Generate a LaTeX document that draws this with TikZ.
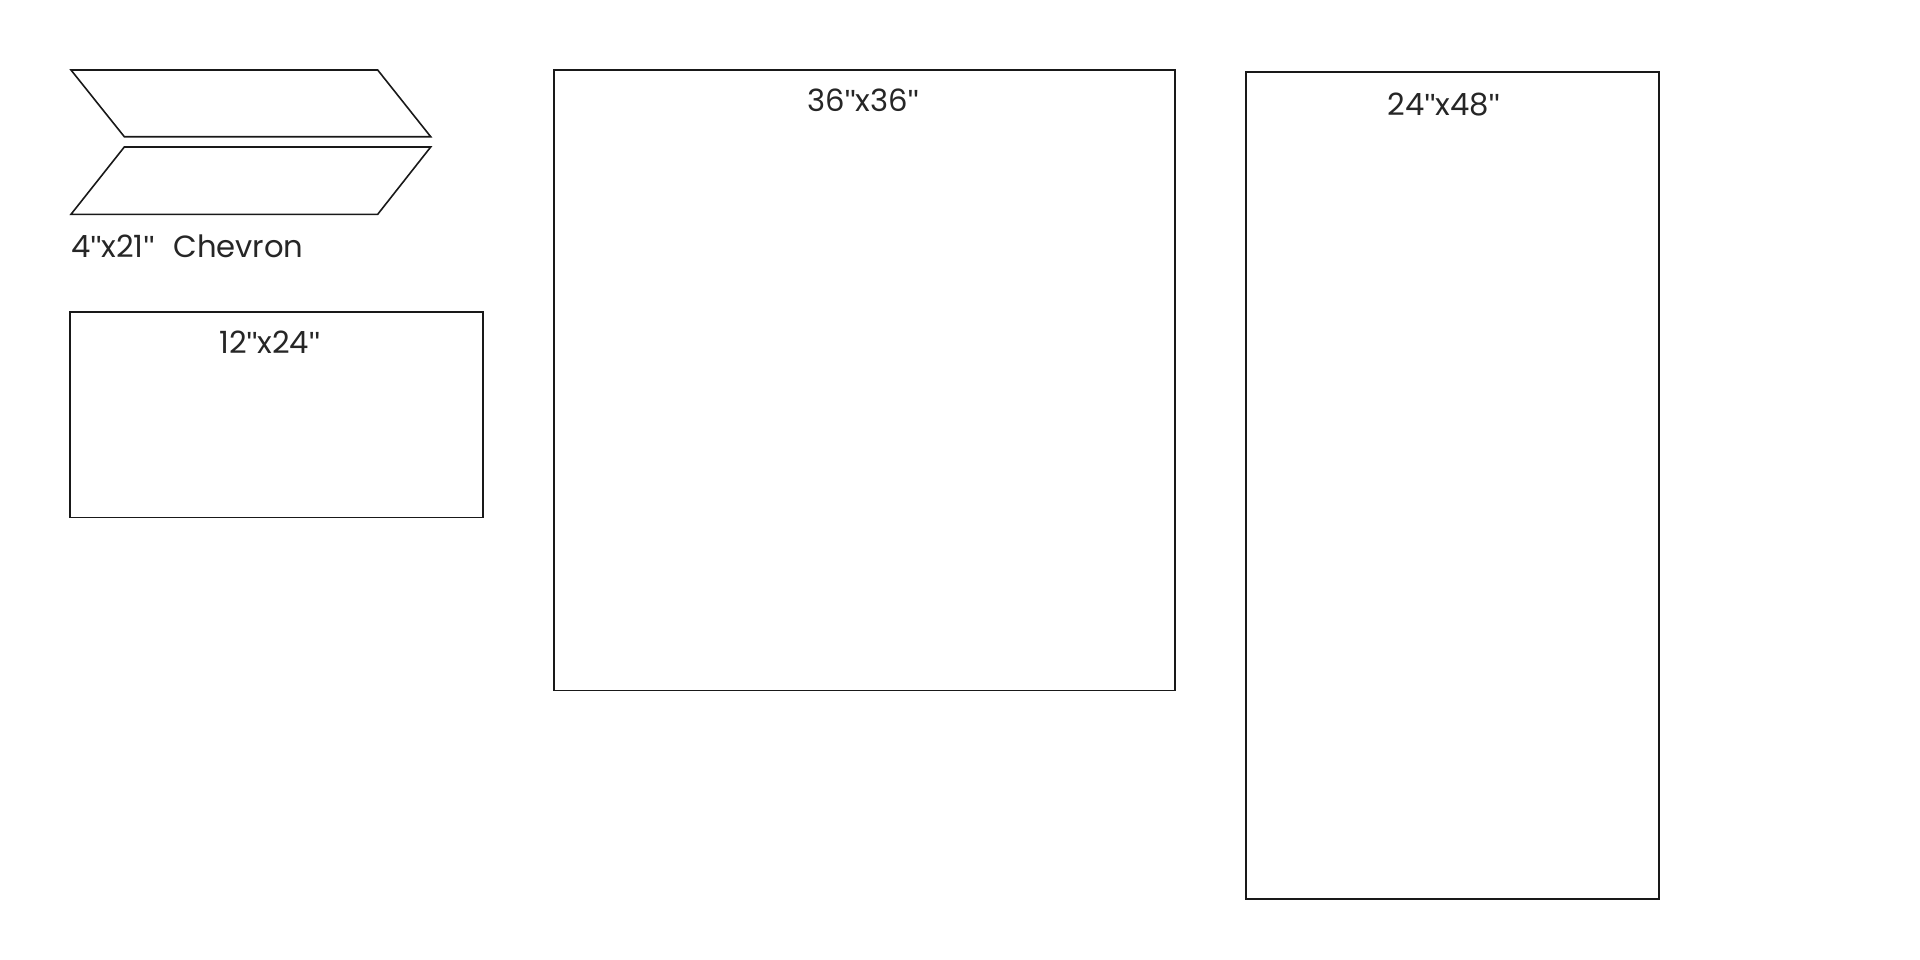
\documentclass[tikz,border=0pt]{standalone}
\usepackage{fontspec}
\setmainfont{Poppins}
\newfontfamily\quotefont{Liberation Sans}
\newcommand{\inchmark}{{\quotefont\char"0022}}
\begin{document}
\begin{tikzpicture}[x=0.75pt,y=-0.75pt,
  outline/.style={draw=black!90,line width=1.2pt,line join=miter},
  lbl/.style={inner sep=0pt,anchor=base,font=\fontsize{23}{27}\selectfont,text=black!85}]
\useasboundingbox (0,0) rectangle (1920,960);
% chevron pieces
\draw[outline] (71,70) -- (377.7,70) -- (430.7,136.7) -- (124.3,136.7) -- cycle;
\draw[outline] (124.3,147) -- (430.7,147) -- (377.7,214.3) -- (71,214.3) -- cycle;
\node[lbl,anchor=base west] (chev) at (71,257.5) {4\inchmark x21\inchmark\hspace{0.35em} Chevron};
% 12x24
\draw[outline] (70,311.7) rectangle (482.7,517.3);
\node[lbl] (t1224) at (269.7,353.5) {12\inchmark x24\inchmark};
% 36x36
\draw[outline] (553.7,70) rectangle (1174.7,690.3);
\node[lbl] (t3636) at (863,111.5) {36\inchmark x36\inchmark};
% 24x48
\draw[outline] (1246,71.7) rectangle (1659,899);
\node[lbl] (t2448) at (1443.7,115) {24\inchmark x48\inchmark};
\end{tikzpicture}
\end{document}
